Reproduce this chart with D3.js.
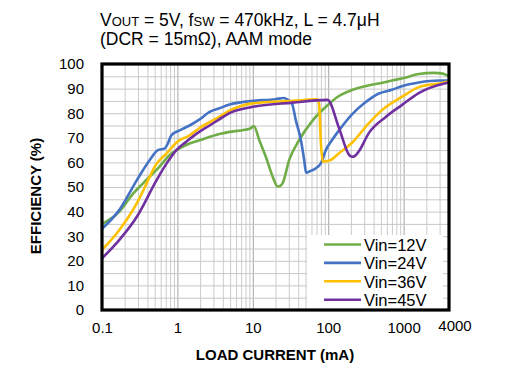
<!doctype html>
<html lang="en">
<head>
<meta charset="utf-8">
<title>Efficiency vs load current</title>
<style>
  body { margin: 0; background: #fff; }
  svg { display: block; font-family: "Liberation Sans", Arial, sans-serif; }
  .tick text { font-size: 15px; fill: #000; }
</style>
</head>
<body>
<svg id="chart" width="520" height="391"></svg>
<script src="https://cdn.jsdelivr.net/npm/d3@7"></script>
<script>
// values (load current mA, efficiency %)
var vin12 = [[0.1,35],[0.17,40],[0.26,47.4],[0.35,51.5],[0.58,58.3],[0.79,63],[1.07,65.7],[1.45,67.7],[1.97,69],
  [3.6,71.5],[4.9,72.4],[7,73],[9.3,73.8],[10.3,74.8],[12.2,69],[15,62],[19,53],[21.3,50.2],[23,50.5],[24.8,51.5],
  [30.4,61],[41,69],[62,77],[93,82.6],[139,87],[207,89.4],[580,92.7],[1000,94.3],[1585,95.9],[2500,96.4],[3300,96.1],[4000,95]];
var vin24 = [[0.1,33],[0.17,40.7],[0.29,52.8],[0.43,61],[0.55,65],[0.68,65.7],[0.75,67.8],[0.83,71],[1.07,73],[1.45,75],
  [1.97,77.5],[2.67,80.5],[3.6,82],[4.9,83.5],[10,85],[20,85.7],[26,86.2],[29,85.5],[33,84],[37.3,77],[43.5,69],[48,61],
  [51,55.8],[58,56.5],[65,57.2],[80,59.6],[93,65],[112,69],[139,73],[207,79.5],[300,84],[470,88],[700,89.5],[946,91],
  [1585,92.5],[3000,93.3],[4000,93.3]];
var vin36 = [[0.1,24.4],[0.17,32.5],[0.29,43.4],[0.41,52.8],[0.5,58.3],[0.72,63.7],[1.0,68.4],[1.45,71],[1.97,74],
  [3.6,78.5],[4.9,81],[10,84],[33.7,85],[72,85.6],[76,83.3],[80,67.8],[85,60.3],[108,61],[139,63.7],[207,68],[347,76],
  [580,82.5],[946,86.6],[1585,90.6],[3720,92.7],[4000,93]];
var vin45 = [[0.1,21],[0.17,28.5],[0.29,37.9],[0.53,52.8],[0.72,59.6],[0.97,65],[1.31,68.4],[1.97,72.5],[2.67,75],
  [3.6,77.5],[4.9,80],[10,82.6],[33.7,84.3],[98,85.4],[139,74],[190,63],[207,62.3],[225,62.6],[255,64.5],[347,72],
  [580,78.5],[946,83.3],[1585,88.2],[3720,92.3],[4000,92.5]];

var seriesNames = ["Vin=12V", "Vin=24V", "Vin=36V", "Vin=45V"];
var seriesColors = ["#70ad47", "#4472c4", "#ffc000", "#7030a0"];
var xTickLabels = [0.1, 1, 10, 100, 1000, 4000];
var yTickLabels = [0, 10, 20, 30, 40, 50, 60, 70, 80, 90, 100];

var plotL = 102, plotR = 449, plotT = 64, plotB = 310;

var svg = d3.select("#chart");

var x = d3.scaleLog().domain([0.1, 4000]).range([plotL, plotR]);
var y = d3.scaleLinear().domain([0, 100]).range([plotB, plotT]);

// minor log grid values
var xGrid = [];
[0.1, 1, 10, 100, 1000].forEach(function(d) {
  for (var k = 1; k <= 9; k++) { var v = +(k * d).toPrecision(3); if (v <= 4000) xGrid.push(v); }
});
var yGrid = d3.range(0, 101, 5);

svg.append("g")
  .attr("transform", "translate(0," + plotB + ")")
  .call(d3.axisBottom(x).tickValues(xGrid).tickSize(-(plotB - plotT)).tickFormat(""))
  .call(function(g) {
    g.select(".domain").remove();
    g.selectAll(".tick line")
      .attr("stroke", function(d) { return [0.1, 1, 10, 100, 1000].indexOf(d) >= 0 ? "#a6a6a6" : "#cccccc"; });
  });

svg.append("g")
  .attr("transform", "translate(" + plotL + ",0)")
  .call(d3.axisLeft(y).tickValues(yGrid).tickSize(-(plotR - plotL)).tickFormat(""))
  .call(function(g) {
    g.select(".domain").remove();
    g.selectAll(".tick line").attr("stroke", "#c8c8c8");
  });

// legend background hides the grid behind it
svg.append("rect")
  .attr("x", 307).attr("y", 235).attr("width", 136).attr("height", plotB - 235)
  .attr("fill", "#fff");

var line = d3.line()
  .x(function(d) { return x(d[0]); })
  .y(function(d) { return y(d[1]); })
  .curve(d3.curveMonotoneX);

[vin12, vin24, vin36, vin45].forEach(function(s, i) {
  svg.append("path")
    .datum(s)
    .attr("d", line)
    .attr("fill", "none")
    .attr("stroke", seriesColors[i])
    .attr("stroke-width", 2.6)
    .attr("stroke-linejoin", "round");
});

// plot border
svg.append("rect")
  .attr("x", plotL).attr("y", plotT)
  .attr("width", plotR - plotL).attr("height", plotB - plotT)
  .attr("fill", "none").attr("stroke", "#000").attr("stroke-width", 3.2);

// tick labels
svg.append("g")
  .attr("transform", "translate(" + (plotL - 18) + ",0)")
  .call(d3.axisLeft(y).tickValues(yTickLabels).tickSize(0).tickPadding(0))
  .call(function(g) { g.select(".domain").remove(); });

svg.append("g")
  .attr("transform", "translate(0," + (plotB + 12) + ")")
  .call(d3.axisBottom(x).tickValues(xTickLabels).tickSize(0).tickPadding(0)
    .tickFormat(function(d) { return String(d); }))
  .call(function(g) {
    g.select(".domain").remove();
    g.selectAll(".tick").filter(function(d) { return d === 4000; })
      .attr("transform", "translate(" + (x(4000) + 6) + ",-2)");
  });

// legend
var legend = svg.append("g");
seriesNames.forEach(function(name, i) {
  var ly = 244.5 + i * 18.4;
  legend.append("line")
    .attr("x1", 324).attr("x2", 361).attr("y1", ly).attr("y2", ly)
    .attr("stroke", seriesColors[i]).attr("stroke-width", 2.6);
  legend.append("text")
    .attr("x", 364).attr("y", ly + 6.3)
    .attr("font-size", 16.5)
    .text(name);
});

// axis titles
svg.append("text")
  .attr("x", 275).attr("y", 360)
  .attr("text-anchor", "middle")
  .attr("font-size", 15).attr("font-weight", "bold")
  .text("LOAD CURRENT (mA)");

svg.append("text")
  .attr("transform", "translate(41,196) rotate(-90)")
  .attr("text-anchor", "middle")
  .attr("font-size", 15).attr("font-weight", "bold")
  .text("EFFICIENCY (%)");

// title with small-caps subscripts
var t1 = svg.append("text").attr("x", 100).attr("y", 26).attr("font-size", 17.5);
t1.append("tspan").text("V");
t1.append("tspan").attr("font-size", 13).text("OUT");
t1.append("tspan").text(" = 5V, f");
t1.append("tspan").attr("font-size", 13).text("SW");
t1.append("tspan").text(" = 470kHz, L = 4.7\u03bcH");

svg.append("text").attr("x", 100).attr("y", 45).attr("font-size", 17.5)
  .text("(DCR = 15m\u03a9), AAM mode");
</script>
</body>
</html>
